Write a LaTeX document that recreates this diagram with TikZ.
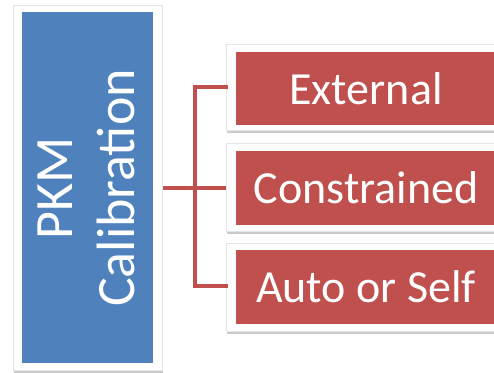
\documentclass[tikz,border=0pt]{standalone}
\usepackage{fontspec}
\setmainfont{Carlito}
\usetikzlibrary{shadows}
\definecolor{bluefill}{HTML}{4F81BD}
\definecolor{redfill}{HTML}{C0504D}
\tikzset{
  frame/.style={fill=white, draw=black!10, line width=0.5pt, anchor=north west, inner sep=0pt,
    drop shadow={shadow xshift=0.5pt, shadow yshift=-3pt, opacity=0.35, fill=black!60}},
  inbox/.style={anchor=north west, inner sep=0pt, text=white},
  link/.style={draw=redfill, line width=3.6pt}
}
\begin{document}
\begin{tikzpicture}[x=1pt,y=-1pt]
\useasboundingbox (0,0) rectangle (494,372);
% blue
\node[frame, minimum width=149pt, minimum height=365pt] (pf) at (13,5) {};
\node[inbox, fill=bluefill, minimum width=131pt, minimum height=351pt] (pb) at (22,12) {};
\node[text=white, rotate=90, align=center, font=\fontsize{54}{62}\selectfont] (pt) at (86,188) {PKM\\Calibration};
% red boxes
\node[frame, minimum width=280pt, minimum height=86pt] (f1) at (226,44) {};
\node[inbox, fill=redfill, minimum width=260pt, minimum height=73pt] (r1) at (236,52) {};
\node[text=white, font=\fontsize{46}{50}\selectfont] (t1) at (366,88.5) {External};
\node[frame, minimum width=280pt, minimum height=88pt] (f2) at (226,143) {};
\node[inbox, fill=redfill, minimum width=260pt, minimum height=74pt] (r2) at (236,151) {};
\node[text=white, font=\fontsize{46}{50}\selectfont] (t2) at (366,188) {Constrained};
\node[frame, minimum width=280pt, minimum height=88pt] (f3) at (226,243) {};
\node[inbox, fill=redfill, minimum width=260pt, minimum height=74pt] (r3) at (236,250) {};
\node[text=white, font=\fontsize{46}{50}\selectfont] (t3) at (366,287) {Auto or Self};
% connectors
\coordinate (jn) at (195,188);
\draw[link] (pf.east |- jn) -- (jn);
\draw[link, line cap=rect] (f1.west |- 0,87) -| (jn |- 0,87) |- (f3.west |- 0,286);
\draw[link] (jn) -- (f2.west |- jn);
\end{tikzpicture}
\end{document}
